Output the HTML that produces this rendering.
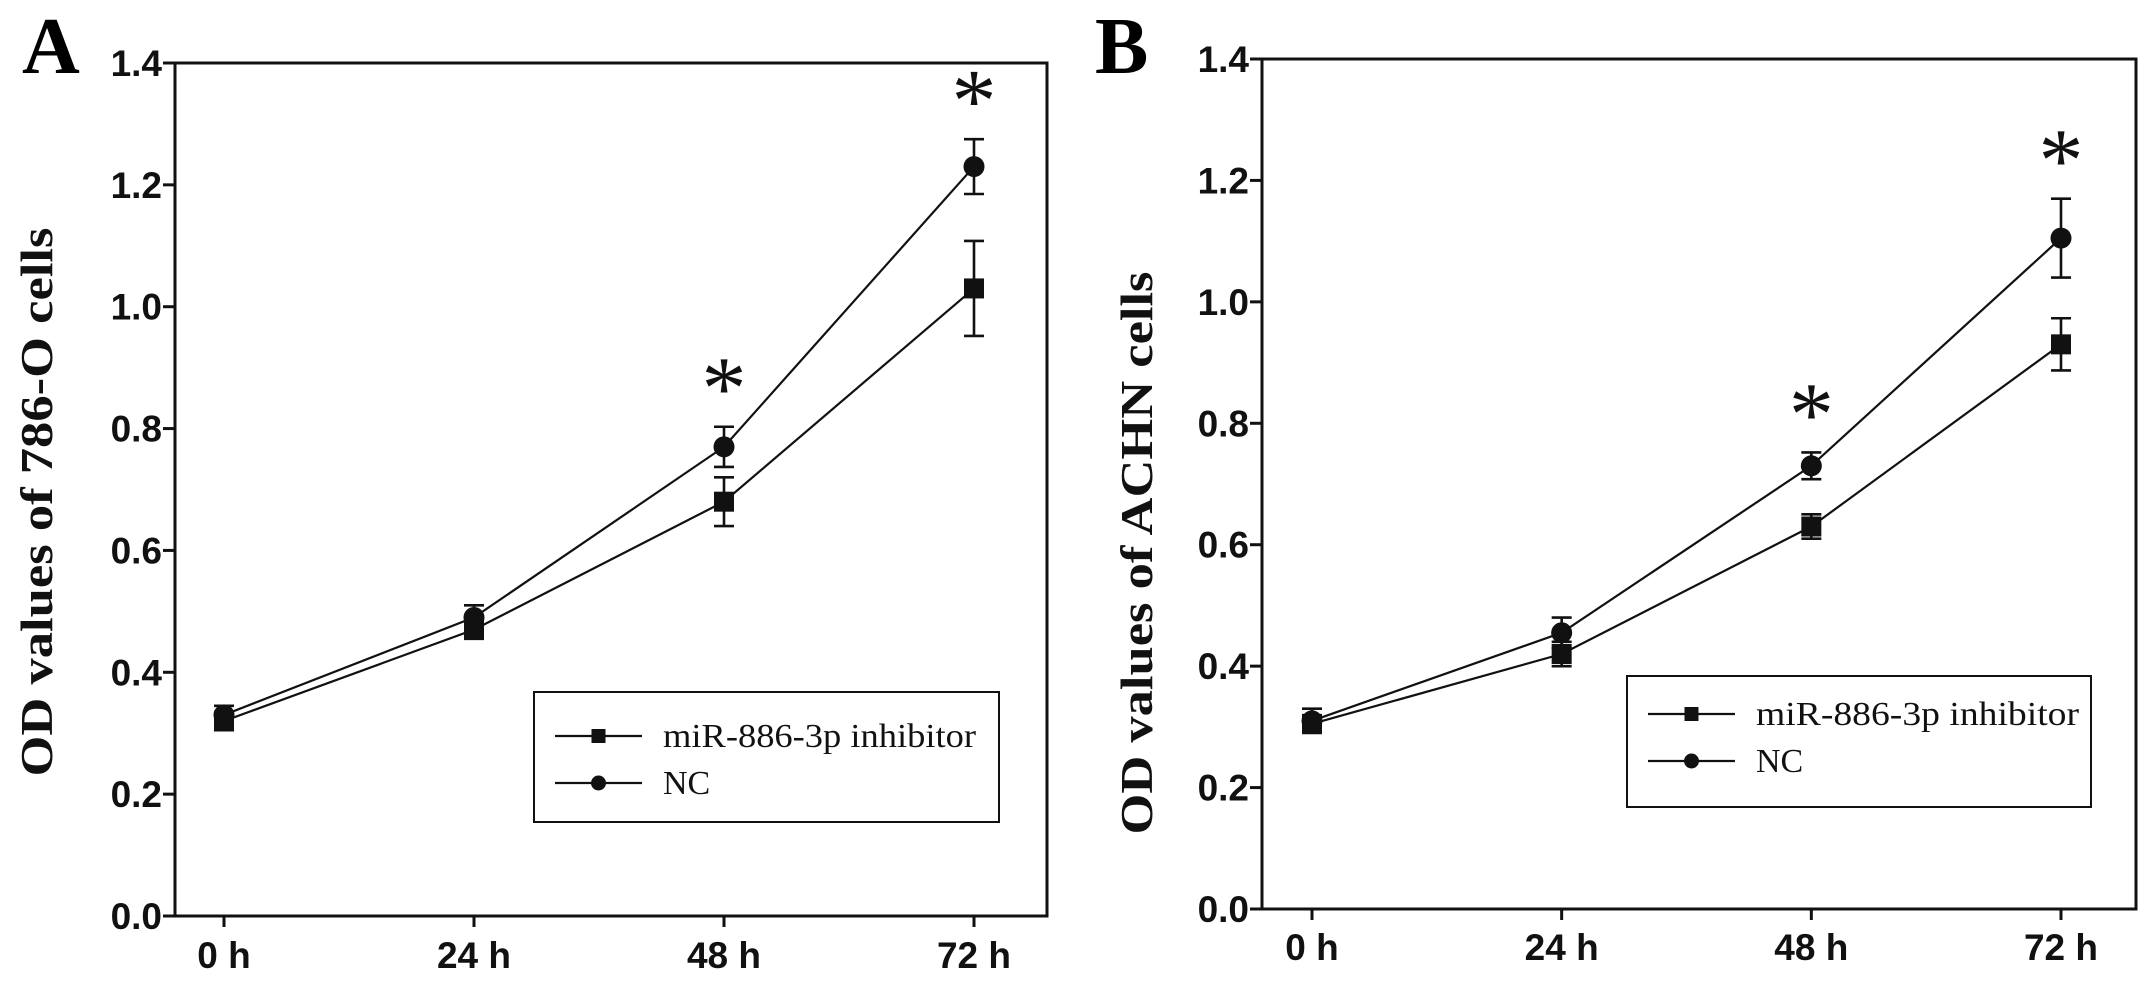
<!DOCTYPE html>
<html><head><meta charset="utf-8"><style>
html,body{margin:0;padding:0;background:#fff;}
svg{display:block;}
</style></head><body>
<svg id="fig" width="2150" height="983" viewBox="0 0 2150 983" xmlns="http://www.w3.org/2000/svg">
<text x="22" y="73" font-family="Liberation Serif, serif" font-weight="bold" font-size="80">A</text>
<text x="1095" y="73" font-family="Liberation Serif, serif" font-weight="bold" font-size="80">B</text>
</svg>
<script>
const categories = ["0 h","24 h","48 h","72 h"];
const yTicks = [0.0,0.2,0.4,0.6,0.8,1.0,1.2,1.4];
const yTickLabels = ["0.0","0.2","0.4","0.6","0.8","1.0","1.2","1.4"];
const aInhibitor = [0.32,0.47,0.68,1.03];
const aInhibitorErr = [0.015,0.015,0.04,0.078];
const aNC = [0.33,0.49,0.77,1.23];
const aNCErr = [0.015,0.02,0.033,0.045];
const aStars = [false,false,true,true];
const bInhibitor = [0.305,0.42,0.63,0.93];
const bInhibitorErr = [0.01,0.02,0.02,0.043];
const bNC = [0.31,0.455,0.73,1.105];
const bNCErr = [0.02,0.025,0.022,0.065];
const bStars = [false,false,true,true];

const NS="http://www.w3.org/2000/svg";
const svg=document.getElementById('fig');
function mk(tag,attrs,parent){const e=document.createElementNS(NS,tag);for(const k in attrs)e.setAttribute(k,attrs[k]);(parent||svg).appendChild(e);return e;}

function panel(p){
  const g=mk('g',{});
  
  
  const xs=i=>p.x0+(p.x3-p.x0)*i/(categories.length-1);
  const ys=v=>p.yb-(p.yb-p.yt)*v/1.4;
  const fr=mk('rect',{x:p.L,y:p.yt,width:p.R-p.L,height:p.yb-p.yt,fill:'none',stroke:'#111','stroke-width':3},g);
  
  
  yTicks.forEach((v,i)=>{
    const t=mk('line',{x1:p.L-12,x2:p.L,y1:ys(v),y2:ys(v),stroke:'#111','stroke-width':3},g);
    
    
    const l=mk('text',{x:p.L-13,y:ys(v)+13,'text-anchor':'end','font-family':'Liberation Sans, sans-serif','font-weight':'bold','font-size':37,fill:'#111'},g);
    l.textContent=yTickLabels[i];
    
    
  });
  categories.forEach((c,i)=>{
    const t=mk('line',{x1:xs(i),x2:xs(i),y1:p.yb,y2:p.yb+11,stroke:'#111','stroke-width':3},g);
    
    
    const l=mk('text',{x:xs(i),y:p.lb,'text-anchor':'middle','font-family':'Liberation Sans, sans-serif','font-weight':'bold','font-size':37,fill:'#111'},g);
    l.textContent=c;
    
    
  });
  const yt=mk('text',{x:0,y:0,transform:`translate(${p.tx},${p.ty}) rotate(-90)`,'text-anchor':'middle','font-family':'Liberation Serif, serif','font-weight':'bold','font-size':46,textLength:p.tlen,lengthAdjust:'spacingAndGlyphs',fill:'#111'},g);
  yt.textContent=p.title;
  
  
  function series(vals,errs,shape,nm){
    const pl=mk('polyline',{points:vals.map((v,i)=>xs(i)+','+ys(v)).join(' '),fill:'none',stroke:'#111','stroke-width':2.2},g);
    
    
    vals.forEach((v,i)=>{
      const x=xs(i),hi=ys(v+errs[i]),lo=ys(v-errs[i]);
      const eb=mk('path',{d:`M${x},${hi}V${lo}M${x-10},${hi}H${x+10}M${x-10},${lo}H${x+10}`,stroke:'#111','stroke-width':2.6,fill:'none'},g);
      
      
      let m;
      if(shape==='sq') m=mk('rect',{x:x-10,y:ys(v)-10,width:20,height:20,fill:'#111'},g);
      else m=mk('circle',{cx:x,cy:ys(v),r:10.5,fill:'#111'},g);
      
      
    });
  }
  series(p.inh,p.inhErr,'sq','inhibitor');
  series(p.nc,p.ncErr,'ci','nc');
  p.stars.forEach((s,i)=>{
    if(!s)return;
    const top=ys(Math.max(p.nc[i]+p.ncErr[i],p.inh[i]+p.inhErr[i]));
    const st=mk('text',{x:xs(i),y:top-50+42,'text-anchor':'middle','font-family':'Liberation Serif, serif','font-size':90,fill:'#111'},g);
    st.textContent='*';
    
    
  });
  const lg=mk('g',{},g);
  
  
  mk('rect',{x:p.lx,y:p.ly,width:p.lw,height:p.lh,fill:'#fff',stroke:'#111','stroke-width':2},lg);
  [['miR-886-3p inhibitor','sq'],['NC','ci']].forEach((e,k)=>{
    const ey=p.ly+p.e1+k*47, x1=p.lx+21, x2=p.lx+108, mx=(x1+x2)/2;
    const en=mk('g',{},lg);
    
    
    mk('line',{x1:x1,x2:x2,y1:ey,y2:ey,stroke:'#111','stroke-width':2.2},en);
    if(e[1]==='sq') mk('rect',{x:mx-7,y:ey-7,width:14,height:14,fill:'#111'},en);
    else mk('circle',{cx:mx,cy:ey,r:7.5,fill:'#111'},en);
    const t=mk('text',{x:p.lx+129,y:ey+11,'font-family':'Liberation Serif, serif','font-size':34,fill:'#111'},en);
    t.textContent=e[0];
    if(k===0){t.setAttribute('textLength',p.txl);t.setAttribute('lengthAdjust','spacingAndGlyphs');}
  });
}

panel({name:'panel-a',L:175,R:1047,yt:63,yb:916,x0:224,x3:974,lb:968,tx:52,ty:502,tlen:549,
  title:'OD values of 786-O cells',inh:aInhibitor,inhErr:aInhibitorErr,nc:aNC,ncErr:aNCErr,stars:aStars,
  lx:534,ly:692,lw:465,lh:130,e1:44,txl:313});
panel({name:'panel-b',L:1262,R:2136,yt:59,yb:909,x0:1312,x3:2061,lb:960,tx:1152,ty:553,tlen:563,
  title:'OD values of ACHN cells',inh:bInhibitor,inhErr:bInhibitorErr,nc:bNC,ncErr:bNCErr,stars:bStars,
  lx:1627,ly:676,lw:464,lh:131,e1:38,txl:323});
</script>
</body></html>
